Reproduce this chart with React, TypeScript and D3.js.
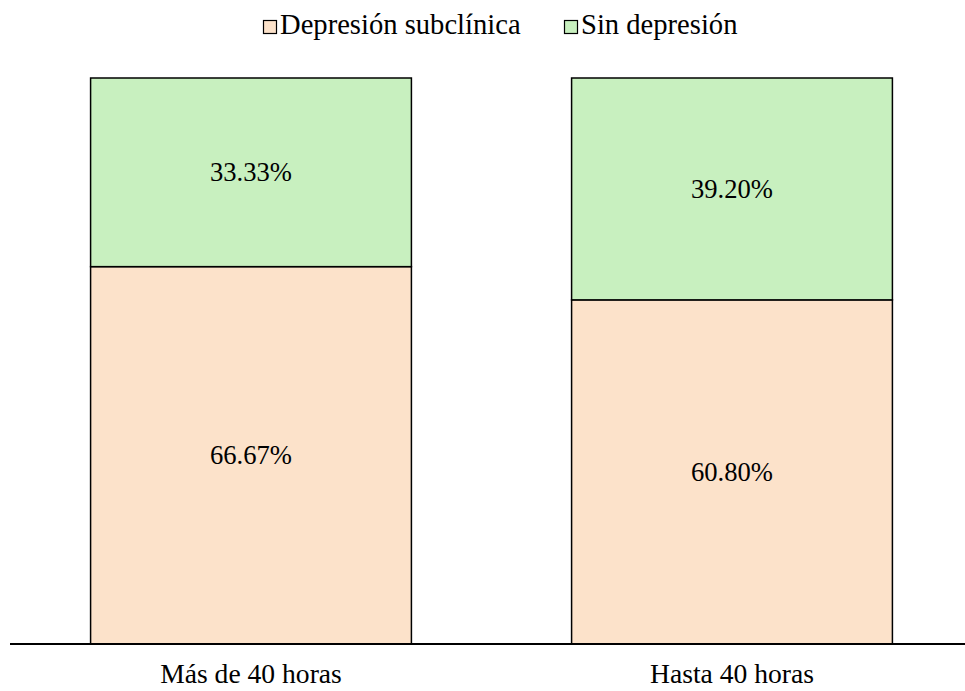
import { useEffect, useRef } from 'react'
import * as d3 from 'd3'

const categories = ['Más de 40 horas', 'Hasta 40 horas']
const seriesNames = ['Depresión subclínica', 'Sin depresión']
const subclinica = [66.67, 60.8]
const sinDepresion = [33.33, 39.2]
const colors = ['#FCE2CA', '#C8F0BF']

export default function App() {
  const svgRef = useRef<SVGSVGElement>(null)

  useEffect(() => {
    if (!svgRef.current) return
    const svg = d3.select(svgRef.current)
    svg.selectAll('*').remove()

    const W = 965
    const H = 691
    const top = 78
    const bottom = 644
    const font = "'Times New Roman', 'Liberation Serif', serif"

    const x = d3.scaleBand<string>().domain(categories).range([10.5, 972.5]).paddingInner(0.333).paddingOuter(0.1665)
    const y = d3.scaleLinear().domain([0, 100]).range([bottom, top])

    const rows = categories.map((c, i) => ({ cat: c, values: [subclinica[i], sinDepresion[i]] }))

    rows.forEach(r => {
      let acc = 0
      r.values.forEach((v, si) => {
        const y0 = acc
        const y1 = acc + v
        acc = y1
        svg.append('rect')
          .attr('x', x(r.cat)!)
          .attr('y', y(y1))
          .attr('width', x.bandwidth())
          .attr('height', y(y0) - y(y1))
          .attr('fill', colors[si])
          .attr('stroke', '#000')
          .attr('stroke-width', 1.5)
        svg.append('text')
          .attr('x', x(r.cat)! + x.bandwidth() / 2)
          .attr('y', (y(y0) + y(y1)) / 2 + 9)
          .attr('text-anchor', 'middle')
          .attr('font-family', font).attr('font-size', 26.6).attr('fill', '#000')
          .text(v.toFixed(2) + '%')
      })
    })

    // baseline
    svg.append('line').attr('x1', 10).attr('x2', W).attr('y1', bottom).attr('y2', bottom)
      .attr('stroke', '#000').attr('stroke-width', 2)

    categories.forEach(c => {
      svg.append('text')
        .attr('x', x(c)! + x.bandwidth() / 2)
        .attr('y', 683)
        .attr('text-anchor', 'middle')
        .attr('font-family', font).attr('font-size', 27.6).attr('fill', '#000')
        .text(c)
    })

    // legend
    const legendX = [263, 564]
    seriesNames.forEach((n, i) => {
      const g = svg.append('g').attr('transform', `translate(${legendX[i]},20)`)
      g.append('rect').attr('x', 0.5).attr('y', 0.5).attr('width', 13).attr('height', 13)
        .attr('fill', colors[i]).attr('stroke', '#000').attr('stroke-width', 1.2)
      g.append('text').attr('x', 17).attr('y', 14)
        .attr('font-family', font).attr('font-size', 28.6).attr('fill', '#000')
        .text(n)
    })

    svg.attr('width', W).attr('height', H)
  }, [])

  return <svg ref={svgRef} style={{ position: 'absolute', left: 0, top: 0 }} />
}
